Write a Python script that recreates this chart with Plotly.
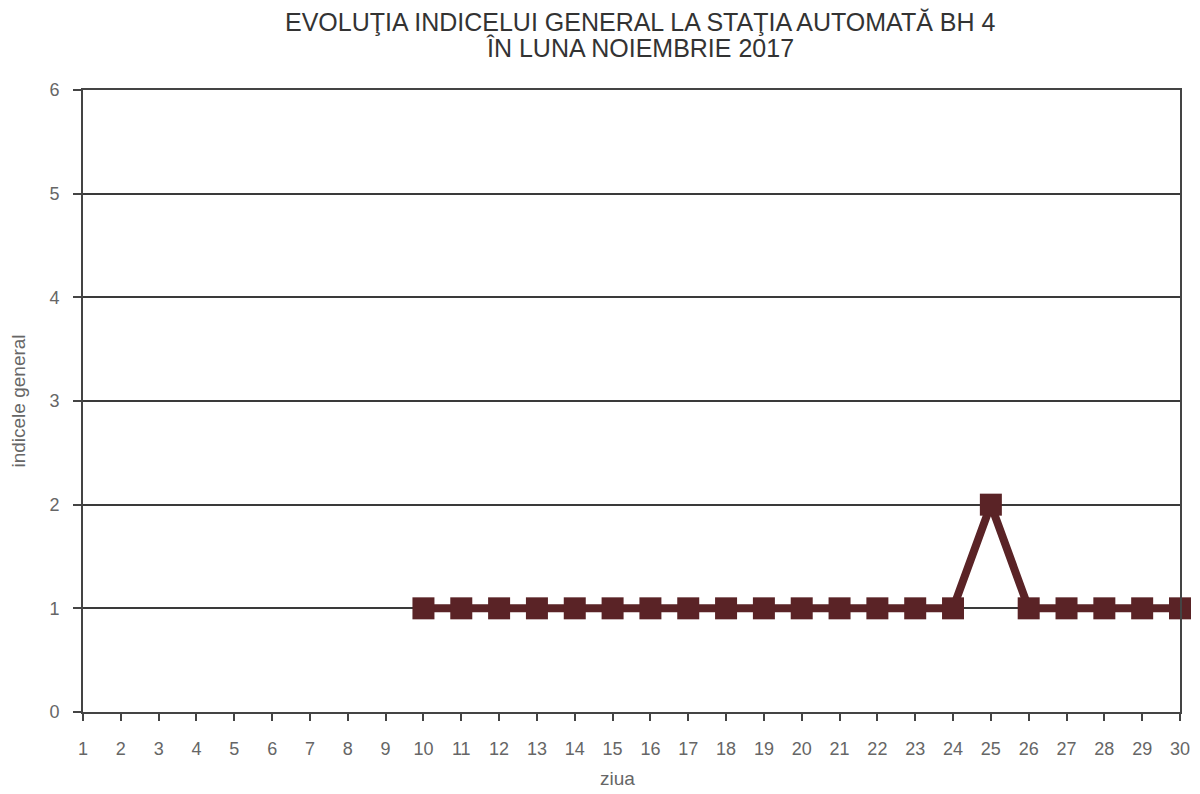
import plotly.graph_objects as go

days = list(range(1, 31))
index_values = [None] * 9 + [1, 1, 1, 1, 1, 1, 1, 1, 1, 1, 1, 1, 1, 1, 1, 2, 1, 1, 1, 1, 1]
y_ticks = [0, 1, 2, 3, 4, 5, 6]

title_line1 = "EVOLUŢIA INDICELUI GENERAL LA STAŢIA AUTOMATĂ BH 4"
title_line2 = "ÎN LUNA NOIEMBRIE 2017"
x_title = "ziua"
y_title = "indicele general"
color = "#5a2326"
font_family = "Liberation Sans, Arial, sans-serif"

fig = go.Figure()
fig.add_trace(go.Scatter(
    x=days, y=index_values, mode="lines+markers",
    line=dict(color=color, width=8),
    marker=dict(symbol="square", size=22, color=color),
    connectgaps=False, showlegend=False, cliponaxis=False,
))

fig.update_layout(
    template="none",
    width=1192, height=784,
    paper_bgcolor="white", plot_bgcolor="white",
    margin=dict(l=75, r=20, t=82, b=80),
    font=dict(family=font_family, color="#555555"),
    annotations=[
        dict(text=title_line1, xref="paper", yref="paper", x=0.508, y=1,
             xanchor="center", yanchor="middle", yshift=68, showarrow=False,
             font=dict(size=25, color="#333333", family=font_family)),
        dict(text=title_line2, xref="paper", yref="paper", x=0.508, y=1,
             xanchor="center", yanchor="middle", yshift=42, showarrow=False,
             font=dict(size=25, color="#333333", family=font_family)),
        dict(text=x_title, xref="paper", yref="paper", x=0.487, y=0,
             xanchor="center", yanchor="top", yshift=-54, showarrow=False,
             font=dict(size=19, color="#666666", family=font_family)),
    ],
)
fig.update_xaxes(
    automargin=False,
    range=[1, 30], tickmode="array", tickvals=days, ticktext=[str(d) for d in days],
    ticks="outside", ticklen=7, tickcolor="#444444", tickwidth=1.5,
    showline=True, linecolor="#444444", linewidth=2, mirror=True,
    showgrid=False, zeroline=False, ticklabelstandoff=12,
    tickfont=dict(size=18, color="#666666"),
)
fig.update_yaxes(
    automargin=False,
    range=[0, 6], tickmode="array", tickvals=y_ticks,
    ticks="outside", ticklen=8, tickcolor="#444444", tickwidth=1.5,
    showline=True, linecolor="#444444", linewidth=2, mirror=True,
    showgrid=True, gridcolor="#3a3a3a", gridwidth=1.5, zeroline=False,
    ticklabelstandoff=10,
    tickfont=dict(size=18, color="#666666"),
    title=dict(text=y_title, font=dict(size=19, color="#666666"), standoff=22),
)

fig.write_html("out.html")
